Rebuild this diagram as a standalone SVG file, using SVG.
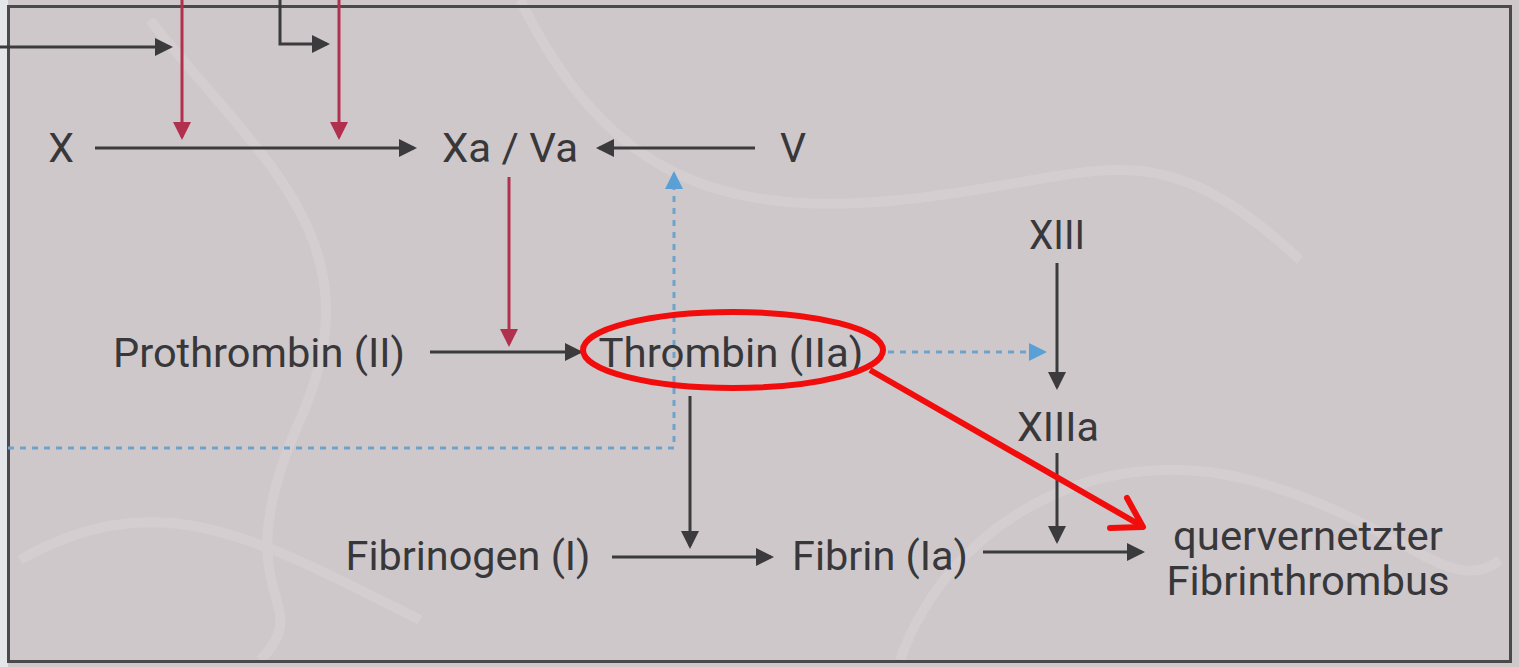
<svg xmlns="http://www.w3.org/2000/svg" width="1519" height="667" viewBox="0 0 1519 667">
<style>
.t{font-family:Roboto,"Liberation Sans",sans-serif;font-size:41px;fill:#38373a}
.k{stroke:#3b3a3c;stroke-width:3;fill:none}
.r{stroke:#b0304e;stroke-width:3;fill:none}
.b{stroke:#6fa3cc;stroke-width:3;fill:none;stroke-dasharray:6 6}
</style>
<defs>
<marker id="ak" markerWidth="6" markerHeight="6" refX="5" refY="3" orient="auto" markerUnits="strokeWidth"><path d="M0,0 L6,3 L0,6 z" fill="#3b3a3c"/></marker>
<marker id="ar" markerWidth="6" markerHeight="6" refX="5" refY="3" orient="auto" markerUnits="strokeWidth"><path d="M0,0 L6,3 L0,6 z" fill="#b0304e"/></marker>
<marker id="ab" markerWidth="6" markerHeight="6" refX="5" refY="3" orient="auto" markerUnits="strokeWidth"><path d="M0,0 L6,3 L0,6 z" fill="#5a9fd6"/></marker>
</defs>
<rect x="0" y="0" width="1519" height="667" fill="#cfc8ca"/>
<rect x="0" y="0" width="8" height="667" fill="#e4e6ea"/>
<g opacity="0.15" stroke="#f4f4f4" stroke-width="10" fill="none">
<path d="M150,20 C260,160 380,240 300,420 S320,600 260,660"/>
<path d="M520,0 C600,160 700,220 900,200 S1150,120 1300,260"/>
<path d="M900,660 C950,520 1100,440 1250,480 S1450,600 1500,560"/>
<path d="M20,560 C160,480 260,540 420,620"/>
</g>
<rect x="8.5" y="6.5" width="1502" height="655" fill="none" stroke="#4a4a4c" stroke-width="3"/>
<g id="connectors">
<path class="k" d="M0,47 H170" marker-end="url(#ak)"/>
<path class="k" d="M280,0 V44 H327" marker-end="url(#ak)"/>
<path class="r" d="M182,0 V137" marker-end="url(#ar)"/>
<path class="r" d="M339,0 V137" marker-end="url(#ar)"/>
<path class="k" d="M95,148 H414" marker-end="url(#ak)"/>
<path class="k" d="M755,148 H599" marker-end="url(#ak)"/>
<path class="r" d="M509,177 V344" marker-end="url(#ar)"/>
<path class="b" d="M8,448 H674 V174" marker-end="url(#ab)"/>
<path class="k" d="M430,352 H580" marker-end="url(#ak)"/>
<path class="b" d="M888,352 H1044" marker-end="url(#ab)"/>
<path class="k" d="M1057,263 V387" marker-end="url(#ak)"/>
<path class="k" d="M1057,453 V541" marker-end="url(#ak)"/>
<path class="k" d="M690,396 V546" marker-end="url(#ak)"/>
<path class="k" d="M612,557 H771" marker-end="url(#ak)"/>
<path class="k" d="M983,552 H1142" marker-end="url(#ak)"/>
</g>
<g id="n-x"><text class="t" x="61" y="162" text-anchor="middle">X</text></g>
<g id="n-xava"><text class="t" x="510" y="162" text-anchor="middle" textLength="136" lengthAdjust="spacingAndGlyphs">Xa / Va</text></g>
<g id="n-v"><text class="t" x="793" y="162" text-anchor="middle">V</text></g>
<g id="n-prothrombin"><text class="t" x="259" y="367" text-anchor="middle" textLength="292" lengthAdjust="spacingAndGlyphs">Prothrombin (II)</text></g>
<g id="n-thrombin"><text class="t" x="731" y="367" text-anchor="middle" textLength="265" lengthAdjust="spacingAndGlyphs">Thrombin (IIa)</text></g>
<g id="n-xiii"><text class="t" x="1057" y="249" text-anchor="middle" textLength="56" lengthAdjust="spacingAndGlyphs">XIII</text></g>
<g id="n-xiiia"><text class="t" x="1058" y="441" text-anchor="middle" textLength="82" lengthAdjust="spacingAndGlyphs">XIIIa</text></g>
<g id="n-fibrinogen"><text class="t" x="468" y="570" text-anchor="middle" textLength="245" lengthAdjust="spacingAndGlyphs">Fibrinogen (I)</text></g>
<g id="n-fibrin"><text class="t" x="880" y="570" text-anchor="middle" textLength="176" lengthAdjust="spacingAndGlyphs">Fibrin (Ia)</text></g>
<g id="n-thrombus"><text class="t" x="1308" y="550" text-anchor="middle" textLength="270" lengthAdjust="spacingAndGlyphs">quervernetzter</text><text class="t" x="1308" y="595" text-anchor="middle" textLength="283" lengthAdjust="spacingAndGlyphs">Fibrinthrombus</text></g>
<g id="highlight">
<ellipse cx="733" cy="350" rx="150" ry="38" fill="none" stroke="#f20d0d" stroke-width="6"/>
<path d="M870,370 L1140,525" stroke="#f20d0d" stroke-width="6" fill="none"/>
<path d="M1127,498 L1143,527 L1110,528" stroke="#f20d0d" stroke-width="6" fill="none" stroke-linecap="round" stroke-linejoin="round"/>
</g>
</svg>
